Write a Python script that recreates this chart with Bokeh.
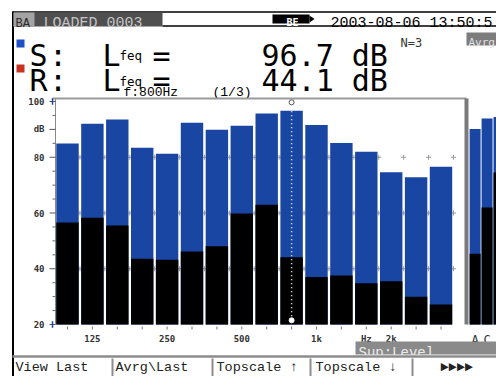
from bokeh.plotting import figure
from bokeh.models import Range1d
from bokeh.embed import file_html
from bokeh.resources import INLINE
from bokeh.core.properties import value

# ---------------- data ----------------
bands = ["100", "125", "160", "200", "250", "315", "400", "500",
         "630", "800", "1k", "1.25k", "1.6k", "2k", "2.5k", "3.15k"]
level_S = [84.9, 92.0, 93.5, 83.4, 81.3, 92.4, 89.9, 91.3,
           95.7, 96.7, 91.6, 85.1, 82.0, 74.6, 72.8, 76.6]
level_R = [56.6, 58.3, 55.5, 43.6, 43.2, 46.2, 48.1, 59.8,
           63.0, 44.1, 37.0, 37.6, 34.8, 35.5, 30.0, 27.2]
overall_labels = ["A", "C", "L"]
overall_S = [90.1, 93.9, 94.4]
overall_R = [45.4, 62.0, 74.5]
y_ticks = [20, 40, 60, 80, 90, 100]
y_tick_labels = ["20", "40", "60", "80", "dB", "100"]
x_tick_labels = {"125": "125", "250": "250", "500": "500",
                 "1k": "1k", "1.6k": "Hz", "2k": "2k"}
grid_levels = [40, 60, 80]
cursor_band = "800"
readout_S = "96.7"
readout_R = "44.1"
header_left = "LOADED 0003"
timestamp = "2003-08-06 13:50:5"
softkeys = ["View Last", "Avrg\\Last", "Topscale \u2191", "Topscale \u2193", "\u25ba\u25ba\u25ba\u25ba"]

# ---------------- layout constants ----------------
BLUE = "#1a46a3"
DB_LO, DB_HI = 20, 100
X0_PX, BAND_PX = 67.0, 24.9          # page x of first band centre, px per band
Y_LO_PX, Y_HI_PX = 324.0, 101.0      # page y of 20 dB and 100 dB
K = (Y_LO_PX - Y_HI_PX) / (DB_HI - DB_LO)

W, H = 496, 376
p = figure(width=W, height=H, output_backend="svg", toolbar_location=None,
           x_range=Range1d(0, W), y_range=Range1d(H, 0),
           x_axis_location=None, y_axis_location=None, min_border=0)
p.grid.visible = False
p.outline_line_color = None
p.background_fill_color = "white"
p.border_fill_color = "white"

p.extra_x_ranges = {"band": Range1d((0 - X0_PX) / BAND_PX, (W - X0_PX) / BAND_PX)}
p.extra_y_ranges = {"db": Range1d(DB_LO - (H - Y_LO_PX) / K, DB_LO + (Y_LO_PX - 0) / K)}
CH = dict(x_range_name="band", y_range_name="db")


def txt(x, y, s, size, color="black", font="Liberation Mono", align="left",
        baseline="alphabetic", style="normal", **kw):
    p.text(x=[x], y=[y], text=[s], text_font=value(font), text_font_size=f"{size}px",
           text_color=color, text_align=align, text_baseline=baseline,
           text_font_style=style, **kw)


def box(l, r, t, b, color):
    p.quad(left=[l], right=[r], top=[t], bottom=[b], fill_color=color, line_color=None)


def hline(x0, x1, y, color, w=1):
    p.segment(x0=[x0], x1=[x1], y0=[y], y1=[y], line_color=color, line_width=w)


def vline(x, y0, y1, color, w=1):
    p.segment(x0=[x], x1=[x], y0=[y0], y1=[y1], line_color=color, line_width=w)


# ---------------- screen frame / header ----------------
hline(12, W, 11.5, "black", 1.5)
vline(12.5, 11, H, "black", 2)
box(13, 162, 12, 26, "#4f4f4f")
box(13, 34, 12, 26, "#a3a3a3")
txt(15, 23, "BA", 12, "#2a2a2a")
txt(43, 23, header_left, 15, "#c4c4c4")
hline(162, W, 25.5, "black", 1.5)
box(272, 309, 14, 23, "black")
p.patch(x=[309, 314, 309], y=[15, 18.5, 22], fill_color="black", line_color=None)
txt(286, 22, "BE", 10, "white", font="DejaVu Sans Mono", style="bold")
txt(330, 23, timestamp, 15, "black")

# ---------------- readouts ----------------
box(16, 24, 39, 47, "#1e50c8")
box(16, 24, 64, 72, "#c83222")
BIG = "DejaVu Sans Mono"
for base, name, val in [(54.5, "S", readout_S), (80, "R", readout_R)]:
    txt(29, base, name, 30, "black", font=BIG)
    txt(48.5, base, ":", 30, "black", font=BIG)
    txt(102, base, "L", 30, "black", font=BIG)
    txt(119, base + 0.5, "feq", 12.5, "black", font=BIG)
    txt(152, base, "=", 30, "black", font=BIG)
    txt(261, base, val + " dB", 30, "black", font=BIG)
txt(400, 42, "N=3", 12, "#333333", font=BIG)
box(466, W, 32, 45, "#7c7c7c")
txt(468, 42, "Avrg", 11, "#e0e0e0", font=BIG)
txt(123, 92, "f:800Hz", 13, "black")
txt(212, 92, "(1/3)", 13, "black")

# ---------------- chart decorations ----------------
hline(52, 466, 98, "#9a9a9a", 2)
vline(55, 98, 324, "#8a8a8a", 1)
p.rect(x=[466], y=[211], width=4, height=226, fill_color="#7a7a7a", line_color=None)

# y ticks and labels (through the dB scale)
minor = [v for v in range(DB_LO + 5, DB_HI, 5) if v not in y_ticks]
p.segment(x0=[52] * len(minor), x1=[55] * len(minor), y0=minor, y1=minor,
          line_color="#666666", line_width=1, y_range_name="db")
p.segment(x0=[49] * len(y_ticks), x1=[55] * len(y_ticks), y0=y_ticks, y1=y_ticks,
          line_color="#555555", line_width=1, y_range_name="db")
p.text(x=[44] * len(y_ticks), y=y_ticks, text=y_tick_labels, text_font=value("DejaVu Sans Mono"),
       text_font_size="9px", text_font_style="bold", text_color="#333333",
       text_align="right", text_baseline="middle", y_range_name="db")
p.segment(x0=[52, 52], x1=[52, 52], y0=[DB_LO - 1.2, DB_HI - 1.2], y1=[DB_LO + 1.2, DB_HI + 1.2],
          line_color=BLUE, line_width=1.5, y_range_name="db")

# grid crosses between bars
gx, gy = [], []
for lv in grid_levels:
    for i in range(len(bands)):
        gx.append(i + 0.5)
        gy.append(lv)
p.scatter(x=gx, y=gy, marker="cross", size=5, line_color="#9a9a9a", line_width=1, **CH)

# bars
idx = list(range(len(bands)))
p.vbar(x=idx, top=level_S, bottom=DB_LO, width=0.9, fill_color=BLUE, line_color=None, **CH)
p.vbar(x=idx, top=level_R, bottom=DB_LO, width=0.9, fill_color="black", line_color=None, **CH)
ov_x = [16.37 + 0.48 * k for k in range(len(overall_labels))]
p.vbar(x=ov_x, top=overall_S, bottom=DB_LO, width=0.44, fill_color=BLUE, line_color=None, **CH)
p.vbar(x=ov_x, top=overall_R, bottom=DB_LO, width=0.44, fill_color="black", line_color=None, **CH)

# cursor
ci = bands.index(cursor_band)
p.segment(x0=[ci], x1=[ci], y0=[DB_LO + 1.5], y1=[DB_HI - 1], line_color="white",
          line_dash="1 3", line_width=1.5, **CH)
p.scatter(x=[ci], y=[DB_HI - 0.3], marker="circle", size=5, fill_color="white",
          line_color="#555555", **CH)
p.scatter(x=[ci], y=[DB_LO + 1.5], marker="circle", size=5, fill_color="white",
          line_color="white", **CH)

# x ticks and labels (through the band scale)
p.segment(x0=idx, x1=idx, y0=[326] * len(idx), y1=[329] * len(idx),
          line_color="#777777", line_width=1, x_range_name="band")
lab_x = [bands.index(b) for b in x_tick_labels]
p.text(x=lab_x, y=[338] * len(lab_x), text=list(x_tick_labels.values()),
       text_font=value("DejaVu Sans Mono"), text_font_size="9px", text_font_style="bold",
       text_color="#333333", text_align="center", text_baseline="alphabetic",
       x_range_name="band")
# only the labels that fall inside the screen are shown (the last one is off-screen)
p.text(x=ov_x[:2], y=[339, 339], text=overall_labels[:2],
       text_font=value("DejaVu Sans Mono"), text_font_size="12px",
       text_color="#333333", text_align="center", text_baseline="alphabetic",
       x_range_name="band")

# ---------------- footer ----------------
box(355, W, 341, 354, "#8a8a8a")
txt(358, 352, "Sup:Level", 14, "#ececec")
hline(12, W, 356, "#8c8c8c", 2.5)
sk_x = [15, 115, 216, 315, 440]
for x, s in zip(sk_x, softkeys):
    txt(x, 367, s, 13.5, "#222222")
for x in [112, 212, 310, 412]:
    vline(x, 358, H, "#8c8c8c", 2)

open("out.html", "w").write(file_html(p, INLINE))
